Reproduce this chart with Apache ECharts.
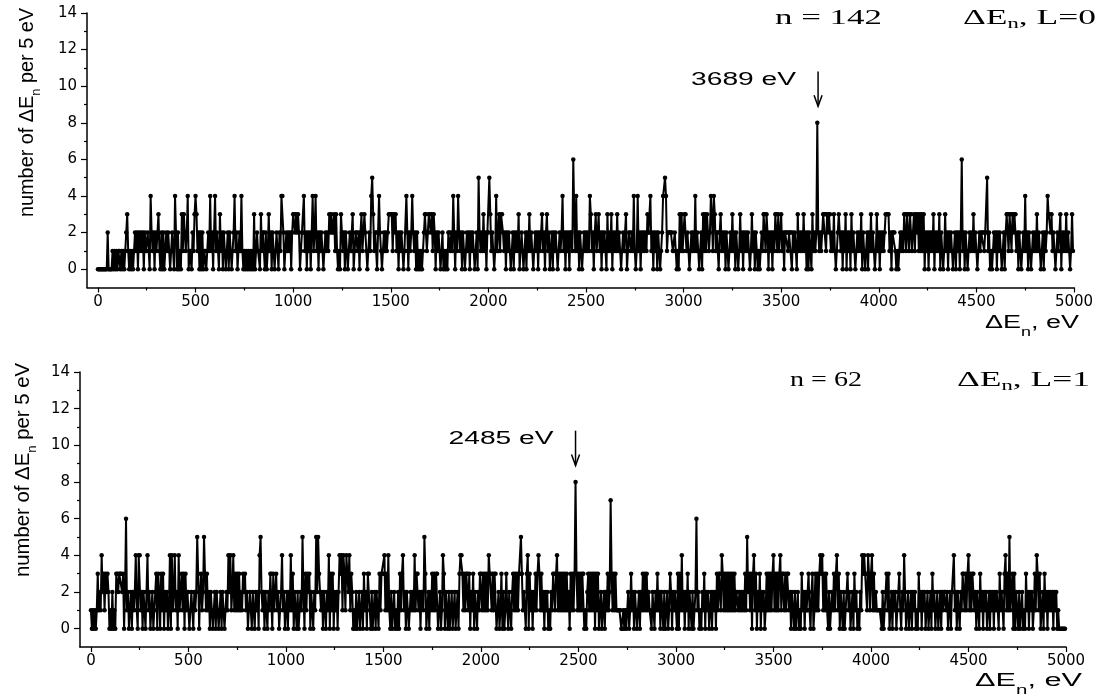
<!DOCTYPE html>
<html><head><meta charset="utf-8">
<script src="https://cdn.jsdelivr.net/npm/echarts@6/dist/echarts.min.js"></script>
<style>html,body{margin:0;padding:0;background:#fff}#c{width:1096px;height:695px}</style>
</head><body><div id="c"></div>
<script>
// counts per 5 eV bin; each string covers 500 eV (100 bins, groups of 5 bins)
const binWidth = 5;
const countsL0 = [
 "00000 00000 20000 10101 01101 01012 31010 10121 20212 12021 12104 21202 12310 20201 21210 12104 20201 03132 12401 10213",
 "43120 20201 10121 41202 41210 31202 10120 21012 41201 21410 10101 01010 30121 10312 20201 31202 10121 02144 20121 21202",
 "33232 32012 24120 21202 41241 20212 10121 21323 22313 10103 21202 10121 13012 21202 31232 10121 45312 20242 10121 21233",
 "33132 31202 12101 14202 12421 20201 01012 33123 32313 20212 10120 10102 21214 20214 21202 10121 20212 10120 52121 31202",
 "25312 10141 13133 21202 12101 20212 13012 10120 21312 10121 20212 31202 31201 20212 10121 24120 21202 21631 41202 10121",
 "21214 31202 31231 20212 10312 13021 21312 10121 13012 21214 10141 20212 12132 24120 21202 10124 45412 22221 12101 03131",
 "13312 10121 21412 10120 31313 21243 14312 20231 21202 10121 31202 10131 20212 12101 31202 10101 21331 32021 20213 31312",
 "31202 22122 20212 10312 12131 20202 10312 12821 21233 31323 31213 10123 21202 13021 20312 10121 21302 10120 21312 10131",
 "20212 12333 31202 22101 01212 13313 31331 23132 31313 13021 20212 13021 21302 10131 20212 10120 21202 61202 10121 21312",
 "10121 22212 25120 10121 20212 10120 23313 31323 31202 10121 41202 10121 21312 10120 21243 32312 10121 13021 21312 10131"
];
const countsL1 = [
 "10101 01312 14231 32320 10201 03323 33230 26120 12021 24104 41202 10241 20120 12303 20313 02120 14041 24120 41231 30312",
 "20121 02125 30231 25313 12021 01202 10120 21012 14241 24131 31312 13231 20121 02102 12045 21202 10213 30312 31201 24120",
 "12021 41302 10201 21520 31323 02102 15253 21202 10214 03130 21202 43414 31432 41320 10201 20120 31203 31020 12021 03133",
 "34131 41020 12010 20313 41202 10121 21413 31202 21530 12021 31313 30120 14302 10201 20120 12034 43131 33130 21302 10213",
 "31313 13143 31313 30120 13020 13102 10231 31313 35312 10340 31202 13134 31312 02120 10213 31341 31313 13131 20313 13831",
 "31313 30102 31313 13031 30120 12021 31273 13131 11110 01010 12013 12021 01202 13131 31211 02102 13120 21020 12013 20212",
 "10303 14120 21302 10201 26120 10213 02120 12021 20313 31431 31313 13131 31221 21212 13152 31303 41302 13021 20131 31313",
 "41313 13413 31313 31202 10201 20103 12021 13102 30131 31343 41313 10201 21313 41302 10201 23120 12031 20102 14343 31431",
 "34131 21111 10201 23130 12021 20123 10214 20120 12021 20103 12021 20120 12031 20120 12021 22120 12022 41202 10213 31313",
 "41313 31202 10312 02120 12021 20212 10312 20341 31512 30302 10201 20103 12021 20131 43130 12031 20212 12021 20100 00000"
];
const xTicks = [0, 500, 1000, 1500, 2000, 2500, 3000, 3500, 4000, 4500, 5000];
const xMinorTicks = [250, 750, 1250, 1750, 2250, 2750, 3250, 3750, 4250, 4750];
const yTicks = [0, 2, 4, 6, 8, 10, 12, 14];
const yMinorTicks = [1, 3, 5, 7, 9, 11, 13];
const nValues = [142, 62];
const lValues = [0, 1];
const peakEnergies = [3689, 2485];

function toPoints(segs) {
  const s = segs.join('').replace(/\s+/g, '');
  return Array.from(s).map((c, i) => [i * binWidth, Number(c)]);
}
const seriesData = [toPoints(countsL0), toPoints(countsL1)];

const grids = [
  {left: 87, top: 13, width: 987, height: 274.5},
  {left: 80, top: 372, width: 986, height: 275}
];
const xMin = -56, xMax = 5000, yMin = -1, yMax = 14;
const BLACK = '#000';
const plain = v => String(v);

const xAxes = [], yAxes = [], series = [];
grids.forEach((g, gi) => {
  xAxes.push({type: 'value', gridIndex: gi, min: xMin, max: xMax, position: 'bottom',
    axisLine: {show: true, onZero: false, lineStyle: {color: BLACK, width: 1.5}},
    axisTick: {show: true, customValues: xTicks, length: 5, lineStyle: {color: BLACK, width: 1.2}},
    axisLabel: {show: true, customValues: xTicks, formatter: plain, fontFamily: 'DejaVu Sans', fontSize: 15, color: BLACK, margin: 7},
    splitLine: {show: false}});
  xAxes.push({type: 'value', gridIndex: gi, min: xMin, max: xMax, position: 'bottom',
    axisLine: {show: false, onZero: false},
    axisTick: {show: true, customValues: xMinorTicks, length: 3, lineStyle: {color: BLACK, width: 1.2}},
    axisLabel: {show: false}, splitLine: {show: false}});
  yAxes.push({type: 'value', gridIndex: gi, min: yMin, max: yMax, position: 'left',
    axisLine: {show: true, onZero: false, lineStyle: {color: BLACK, width: 1.5}},
    axisTick: {show: true, customValues: yTicks, length: 6, lineStyle: {color: BLACK, width: 1.2}},
    axisLabel: {show: true, customValues: yTicks, formatter: plain, fontFamily: 'DejaVu Sans', fontSize: 15, color: BLACK, margin: 10},
    splitLine: {show: false}});
  yAxes.push({type: 'value', gridIndex: gi, min: yMin, max: yMax, position: 'left',
    axisLine: {show: false, onZero: false},
    axisTick: {show: true, customValues: yMinorTicks, length: 3, lineStyle: {color: BLACK, width: 1.2}},
    axisLabel: {show: false}, splitLine: {show: false}});
  series.push({type: 'line', xAxisIndex: gi * 2, yAxisIndex: gi * 2, data: seriesData[gi],
    symbol: 'circle', symbolSize: 4.5, showSymbol: true, showAllSymbol: true, silent: true,
    lineStyle: {color: '#000', width: 2}, itemStyle: {color: BLACK}, animation: false});
});

const chart = echarts.init(document.getElementById('c'), null, {renderer: 'canvas'});
chart.setOption({
  animation: false, backgroundColor: '#fff',
  grid: grids.map(g => Object.assign({containLabel: false, outerBoundsMode: 'none'}, g)),
  xAxis: xAxes, yAxis: yAxes, series: series
});

// ---- texts and annotations ----
const ctx = document.createElement('canvas').getContext('2d');
function fontOf(size, fam) { return size + 'px "' + fam + '"'; }
function measure(t, font) { ctx.font = font; return ctx.measureText(t).width; }
function textRun(parts, fam, x0, y0, length, rotate) {
  const widths = parts.map(p => measure(p.t, fontOf(p.size, fam)));
  const total = widths.reduce((a, b) => a + b, 0);
  const k = length / total;
  let cur = 0; const els = [];
  parts.forEach((p, i) => {
    const font = fontOf(p.size, fam);
    const dy = p.dy || 0;
    const el = {type: 'text', silent: true, scaleX: k, rotation: rotate ? Math.PI / 2 : 0,
      style: {text: p.t, font: font, fill: BLACK, align: 'left', verticalAlign: 'middle',
              textAlign: 'left', textVerticalAlign: 'middle'}};
    if (rotate) { el.x = x0 + dy; el.y = y0 - cur * k; }
    else { el.x = x0 + cur * k; el.y = y0 + dy; }
    els.push(el); cur += widths[i];
  });
  return els;
}

let graphics = [];
const SANS = 'Liberation Sans', SERIF = 'Liberation Serif';
// y-axis titles
const yTitleParts = [{t: 'number of ΔE', size: 20}, {t: 'n', size: 13, dy: 9}, {t: ' per 5 eV', size: 20}];
graphics = graphics.concat(textRun(yTitleParts, SANS, 27, 217, 209, true));
graphics = graphics.concat(textRun(yTitleParts, SANS, 23, 577, 214, true));
// x-axis titles
const xTitleParts = [{t: 'ΔE', size: 18}, {t: 'n', size: 12, dy: 10}, {t: ', eV', size: 18}];
graphics = graphics.concat(textRun(xTitleParts, SANS, 985, 323, 94, false));
graphics = graphics.concat(textRun(xTitleParts, SANS, 975, 681, 107, false));
// panel headers
graphics = graphics.concat(textRun([{t: 'n = ' + nValues[0], size: 22}], SERIF, 775, 18, 107, false));
graphics = graphics.concat(textRun([{t: 'ΔE', size: 22}, {t: 'n', size: 14, dy: 6}, {t: ', L=' + lValues[0], size: 22}], SERIF, 963, 18, 133, false));
graphics = graphics.concat(textRun([{t: 'n = ' + nValues[1], size: 22}], SERIF, 790, 380, 72, false));
graphics = graphics.concat(textRun([{t: 'ΔE', size: 22}, {t: 'n', size: 14, dy: 6}, {t: ', L=' + lValues[1], size: 22}], SERIF, 957, 380, 133, false));

// peak arrows + labels
peakEnergies.forEach((e, gi) => {
  const top = chart.convertToPixel({xAxisIndex: gi * 2, yAxisIndex: gi * 2}, [e, 10.8]);
  const tip = chart.convertToPixel({xAxisIndex: gi * 2, yAxisIndex: gi * 2}, [e, 8.9]);
  graphics.push({type: 'polyline', silent: true, shape: {points: [top, tip]}, style: {stroke: BLACK, lineWidth: 1.5, fill: null}});
  graphics.push({type: 'polyline', silent: true, shape: {points: [[tip[0] - 4, tip[1] - 11], tip, [tip[0] + 4, tip[1] - 11]]}, style: {stroke: BLACK, lineWidth: 1.5, fill: null}});
  const lab = e + ' eV';
  graphics = graphics.concat(textRun([{t: lab, size: 18}], SANS, top[0] - 127, top[1] + 8, 105, false));
});
chart.setOption({graphic: {elements: graphics}});
</script>
</body></html>
